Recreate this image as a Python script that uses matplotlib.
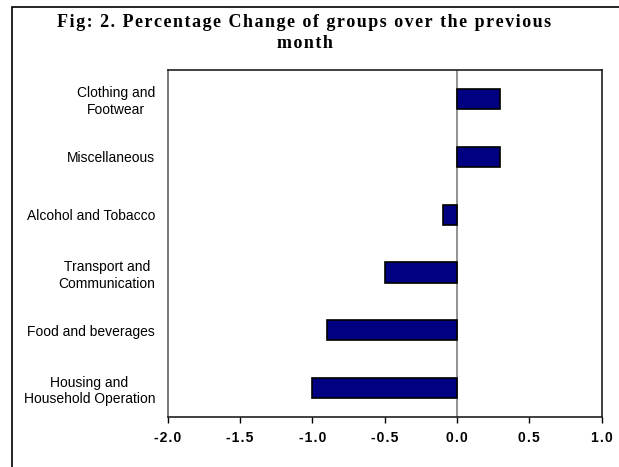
import matplotlib.pyplot as plt
from matplotlib.patches import Rectangle

# dados do gráfico
categories = ["Clothing and\nFootwear", "Miscellaneous", "Alcohol and Tobacco",
              "Transport and\nCommunication", "Food and beverages",
              "Housing and\nHousehold Operation"]
values = [0.3, 0.3, -0.1, -0.5, -0.9, -1.0]
xticks = [-2.0, -1.5, -1.0, -0.5, 0.0, 0.5, 1.0]
title = "Fig: 2. Percentage Change of groups over the previous\nmonth"


def spaced(s):
    # espaçamento entre letras como no original
    return "\n".join("\u200a".join(line) for line in s.split("\n"))


fig = plt.figure(figsize=(6.19, 4.67), dpi=100)
ax = fig.add_axes([0.271, 0.107, 0.701, 0.743])

# moldura da figura (só esquerda e topo visíveis)
fig.patches.append(Rectangle((12 / 619, -0.2), 1.2, 1 - 7 / 467 + 0.2,
                             transform=fig.transFigure, fill=False,
                             edgecolor="black", linewidth=1.2))

pos = list(range(len(categories)))
ax.barh(pos, values, height=0.35, color="#000080", edgecolor="black", linewidth=1.2, zorder=3)
ax.axvline(0, color="#808080", linewidth=1.2, zorder=2)

ax.set_xlim(-2.0, 1.0)
ax.set_ylim(len(categories) - 0.5, -0.5)
ax.set_yticks(pos)
ax.set_yticklabels(categories, fontsize=10, family="Liberation Sans", ha="right",
                   multialignment="center", linespacing=1.25)
ax.tick_params(axis="y", length=0, pad=9)
ax.set_xticks(xticks)
ax.set_xticklabels([spaced(f"{t:.1f}") for t in xticks], fontsize=10, fontweight="bold",
                   family="Liberation Sans")
ax.tick_params(axis="x", direction="out", length=4, width=1, pad=6)

for s in ["top", "right", "bottom"]:
    ax.spines[s].set_color("#202020")
ax.spines["left"].set_color("#606060")
for s in ax.spines.values():
    s.set_linewidth(1.2)

fig.text(0.492, 0.97, spaced(title),
         ha="center", va="top", fontsize=13, fontweight="bold",
         family="Liberation Serif", linespacing=1.3)

fig.savefig("out.png", dpi=100)
